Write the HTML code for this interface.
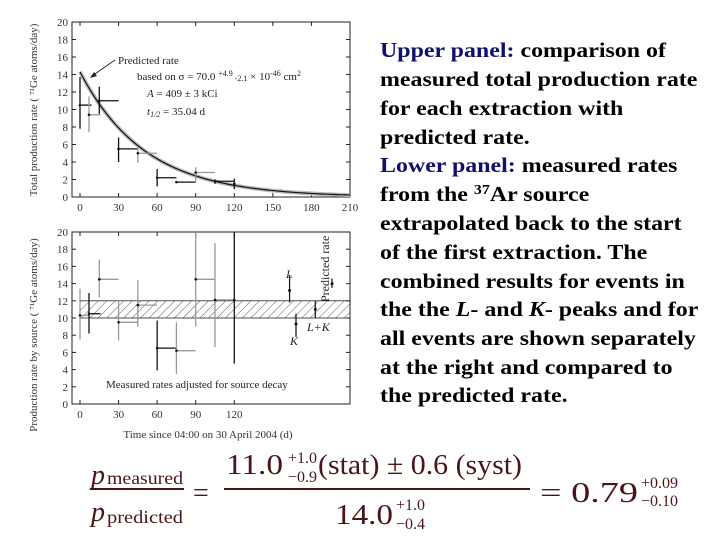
<!DOCTYPE html>
<html><head><meta charset="utf-8"><style>
body{margin:0;background:#fff;width:720px;height:540px;overflow:hidden}
svg{display:block}
.t{font-family:"Liberation Serif",serif}
</style></head><body>
<svg id="s" width="720" height="540" xmlns="http://www.w3.org/2000/svg">
<defs><pattern id="hatch" width="6" height="6" patternUnits="userSpaceOnUse" patternTransform="rotate(45)"><line x1="0" y1="0" x2="0" y2="6" stroke="#333" stroke-width="0.8"/></pattern></defs>
<g id="upper"></g>
<g id="lower"></g>
<g class="t" font-size="21" font-weight="bold" transform="translate(380,0) scale(1.14,1) translate(-380,0)">
<text x="380" y="57"><tspan fill="#10106e">Upper panel:</tspan> comparison of</text>
<text x="380" y="86">measured total production rate</text>
<text x="380" y="115">for each extraction with</text>
<text x="380" y="144">predicted rate.</text>
<text x="380" y="172"><tspan fill="#10106e">Lower panel:</tspan> measured rates</text>
<text x="380" y="201">from the <tspan font-size="14" dy="-7">37</tspan><tspan dy="7">Ar source</tspan></text>
<text x="380" y="230">extrapolated back to the start</text>
<text x="380" y="259">of the first extraction. The</text>
<text x="380" y="288">combined results for events in</text>
<text x="380" y="316">the the <tspan font-style="italic">L</tspan>- and <tspan font-style="italic">K</tspan>- peaks and for</text>
<text x="380" y="345">all events are shown separately</text>
<text x="380" y="374">at the right and compared to</text>
<text x="380" y="402">the predicted rate.</text>
</g>
<g class="t" fill="#4a1515">
<text x="91" y="484" font-size="28" font-style="italic">p</text><text x="107" y="484" font-size="18" textLength="76" lengthAdjust="spacingAndGlyphs">measured</text>
<line x1="90" y1="489" x2="184" y2="489" stroke="#4a1515" stroke-width="2"/>
<text x="91" y="521" font-size="28" font-style="italic">p</text><text x="107" y="523" font-size="18" textLength="76" lengthAdjust="spacingAndGlyphs">predicted</text>
<text x="193" y="502" font-size="28">=</text>
<text x="226" y="474" font-size="28" textLength="57" lengthAdjust="spacingAndGlyphs">11.0</text>
<text x="288" y="463" font-size="16">+1.0</text><text x="288" y="482" font-size="16">−0.9</text>
<text x="318" y="474" font-size="28" textLength="204" lengthAdjust="spacingAndGlyphs">(stat)  ± 0.6 (syst)</text>
<line x1="224" y1="489" x2="530" y2="489" stroke="#4a1515" stroke-width="2"/>
<text x="335" y="524" font-size="28" textLength="58" lengthAdjust="spacingAndGlyphs">14.0</text>
<text x="396" y="510" font-size="16">+1.0</text><text x="396" y="529" font-size="16">−0.4</text>
<text x="540" y="502" font-size="28" textLength="98" lengthAdjust="spacingAndGlyphs">= 0.79</text>
<text x="641" y="488" font-size="16">+0.09</text><text x="641" y="506" font-size="16">−0.10</text>
</g>
</svg>
<script>
// Upper panel data
const upStart=[0,7,15,30,45,60,75,90,105,120];
const upEnd=[9,16,30,45,60,75,90,105,120,121];
const upVal=[10.5,9.4,11.0,5.5,5.0,2.2,1.7,2.8,1.8,1.5];
const upLo=[7.8,7.4,9.5,4.0,3.9,1.2,1.6,1.8,1.5,0.9];
const upHi=[13.7,11.5,12.6,6.8,5.7,3.2,1.8,3.4,2.0,2.1];
const upGray=[0,1,0,0,1,0,0,1,0,0];
const predInitial=14.3, halfLife=35.04;
// Lower panel data
const loStart=[0,7,15,30,45,60,75,90,105,120];
const loEnd=[7,16,30,45,60,75,90,105,120,121];
const loVal=[10.3,10.5,14.5,9.5,11.5,6.5,6.2,14.5,12.1,12.1];
const loLo=[7.5,8.2,12.4,7.4,9.0,3.9,3.5,9.0,6.6,4.7];
const loHi=[13.4,12.9,16.8,12.0,14.4,9.7,9.5,20,18.7,20];
const loGray=[1,0,1,1,1,0,1,1,1,0];
const combLabels=["L","K","L+K","Predicted"];
const combT=[163,168,183,196];
const combVal=[13.2,9.3,11.0,14.0];
const combLo=[11.8,7.8,10.0,13.5];
const combHi=[15.0,10.5,12.0,14.6];
const bandLo=10, bandHi=12;
const xTicksUp=[0,30,60,90,120,150,180,210];
const xTicksLo=[0,30,60,90,120];
const yTicks=[0,2,4,6,8,10,12,14,16,18,20];

const NS="http://www.w3.org/2000/svg";
function mk(p,tag,at){const e=document.createElementNS(NS,tag);for(const k in at)e.setAttribute(k,at[k]);p.appendChild(e);return e;}
function X(t){return 80+t*270/210;}
function panel(g,top,bot,xt){
  const Y=v=>bot-(bot-top)*v/20;
  const fr=mk(g,'rect',{x:72,y:top,width:278,height:bot-top,fill:'none',stroke:'#222','stroke-width':1});
  
  
  yTicks.forEach(v=>{
    mk(g,'line',{x1:72,x2:76,y1:Y(v),y2:Y(v),stroke:'#222'});
    mk(g,'line',{x1:346,x2:350,y1:Y(v),y2:Y(v),stroke:'#222'});
    const t=mk(g,'text',{x:68,y:Y(v)+4,'text-anchor':'end','font-size':11,class:'t',fill:'#333'});t.textContent=v;
    
    
  });
  xt.forEach(v=>{
    mk(g,'line',{x1:X(v),x2:X(v),y1:bot,y2:bot-4,stroke:'#222'});
    mk(g,'line',{x1:X(v),x2:X(v),y1:top,y2:top+4,stroke:'#222'});
    const t=mk(g,'text',{x:X(v),y:bot+14,'text-anchor':'middle','font-size':11,class:'t',fill:'#333'});t.textContent=v;
    
    
  });
  return Y;
}
function bars(g,Y,s,e,v,lo,hi,gr){
  for(let i=0;i<s.length;i++){
    const c=gr[i]?'#999':'#111';
    const b=mk(g,'g',{});
    
    
    mk(b,'line',{x1:X(s[i]),x2:X(e[i]),y1:Y(v[i]),y2:Y(v[i]),stroke:c,'stroke-width':1.3});
    mk(b,'line',{x1:X(s[i]),x2:X(s[i]),y1:Y(lo[i]),y2:Y(hi[i]),stroke:c,'stroke-width':1.3});
    mk(b,'circle',{cx:X(s[i]),cy:Y(v[i]),r:1.3,fill:'#111'});
  }
}
// upper
const gu=document.getElementById('upper');
const Yu=panel(gu,22,197,xTicksUp);
let d='';
for(let t=0;t<=210;t+=2){const v=predInitial*Math.pow(0.5,t/halfLife);d+=(t?'L':'M')+X(t)+' '+Yu(v);}
const band=mk(gu,'path',{d:d,fill:'none',stroke:'#bbb','stroke-width':4});


const cur=mk(gu,'path',{d:d,fill:'none',stroke:'#111','stroke-width':1.2});


bars(gu,Yu,upStart,upEnd,upVal,upLo,upHi,upGray);
const ann=mk(gu,'g',{class:'t','font-size':11,fill:'#222'});


ann.innerHTML='<text x="118" y="64">Predicted rate</text><line x1="115" y1="60" x2="92" y2="76" stroke="#222"/><path d="M90 78 l7 -2 l-3 -4z" fill="#222"/>'+
'<text x="137" y="80">based on σ = 70.0 <tspan font-size="8" dy="-4">+4.9</tspan><tspan font-size="8" dy="5"> -2.1</tspan><tspan dy="-1"> × 10</tspan><tspan font-size="8" dy="-4">-46</tspan><tspan dy="4"> cm</tspan><tspan font-size="8" dy="-4">2</tspan></text>'+
'<text x="147" y="97" font-style="italic">A<tspan font-style="normal"> = 409 ± 3 kCi</tspan></text>'+
'<text x="147" y="115" font-style="italic">t<tspan font-size="8" dy="2">1/2</tspan><tspan font-style="normal" dy="-2"> = 35.04 d</tspan></text>';
const yt1=mk(gu,'text',{x:0,y:0,transform:'translate(37,110) rotate(-90)','text-anchor':'middle','font-size':11,class:'t',fill:'#333'});
yt1.textContent='Total production rate ( \u2077\u00B9Ge atoms/day)';


// lower
const gl=document.getElementById('lower');
const Yl=panel(gl,232,404,xTicksLo);
const hb=mk(gl,'rect',{x:X(0),y:Yl(bandHi),width:350-X(0),height:Yl(bandLo)-Yl(bandHi),fill:'url(#hatch)',stroke:'#222','stroke-width':0.8});


bars(gl,Yl,loStart,loEnd,loVal,loLo,loHi,loGray);
for(let i=0;i<combT.length;i++){
  const b=mk(gl,'g',{});
  
  
  mk(b,'line',{x1:X(combT[i]),x2:X(combT[i]),y1:Yl(combLo[i]),y2:Yl(combHi[i]),stroke:'#111','stroke-width':1.2});
  mk(b,'circle',{cx:X(combT[i]),cy:Yl(combVal[i]),r:1.5,fill:'#111'});
}
const lab=mk(gl,'g',{class:'t','font-size':12,fill:'#222'});


lab.innerHTML='<text x="286" y="278" font-style="italic">L</text><text x="290" y="345" font-style="italic">K</text><text x="307" y="331" font-style="italic">L+K</text>'+
'<text transform="translate(329,302) rotate(-90)" font-size="12">Predicted rate</text>'+
'<text x="106" y="388" font-size="11">Measured rates adjusted for source decay</text>';
const xt=mk(gl,'text',{x:208,y:438,'text-anchor':'middle','font-size':11,class:'t',fill:'#333'});
xt.textContent='Time since 04:00 on 30 April 2004 (d)';


const yt2=mk(gl,'text',{x:0,y:0,transform:'translate(37,335) rotate(-90)','text-anchor':'middle','font-size':11,class:'t',fill:'#333'});
yt2.textContent='Production rate by source ( \u2077\u00B9Ge atoms/day)';


</script>
</body></html>
